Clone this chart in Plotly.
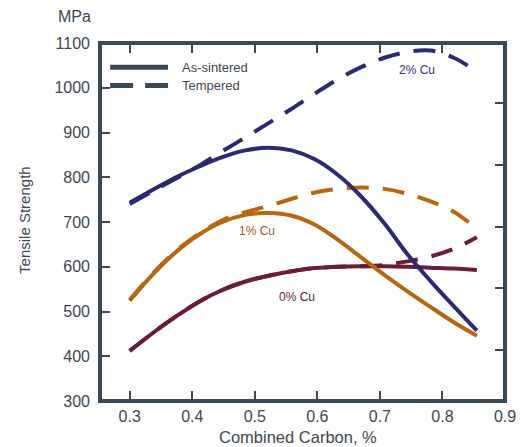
import plotly.graph_objects as go

# Combined carbon (%) sampled evenly from 0.30 to 0.855
carbon = [0.300, 0.337, 0.374, 0.411, 0.448, 0.485, 0.522, 0.559,
          0.596, 0.633, 0.670, 0.707, 0.744, 0.781, 0.818, 0.855]

# Tensile strength (MPa), as-sintered and tempered, per copper level
cu2_sintered = [743, 772, 800, 824, 845, 860, 866, 860, 840, 805, 757, 697, 628, 568, 512, 457]
cu2_tempered = [740, 769, 797, 826, 858, 889, 921, 953, 987, 1019, 1046, 1067, 1080, 1083, 1067, 1036]

cu1_sintered = [524, 583, 633, 672, 700, 716, 720, 714, 694, 660, 621, 582, 545, 510, 476, 446]
cu1_tempered = [526, 585, 635, 674, 704, 722, 736, 752, 766, 774, 777, 774, 763, 746, 723, 685]

cu0_sintered = [412, 452, 489, 522, 548, 567, 580, 590, 597, 600, 601, 601, 600, 598, 596, 593]
cu0_tempered = [412, 452, 489, 522, 548, 567, 580, 590, 597, 600, 601, 604, 612, 623, 640, 666]

x_ticks = [0.3, 0.4, 0.5, 0.6, 0.7, 0.8, 0.9]
y_ticks = [300, 400, 500, 600, 700, 800, 900, 1000, 1100]
ksi_ticks = [60, 80, 100, 120, 140]
MPA_PER_KSI = 6.89476

series_labels = ["2% Cu", "1% Cu", "0% Cu"]
label_x = [0.759, 0.503, 0.567]
label_y = [1040, 681, 532]

BLUE = "#2c2a72"
ORANGE = "#b8660f"
MAROON = "#6a1c3c"
FRAME = "#3b4a57"
TEXT = "#3e4751"
FONT = "Liberation Sans, Arial"
DASH = "22px,14px"

fig = go.Figure()

curves = [
    (cu0_sintered, cu0_tempered, MAROON),
    (cu1_sintered, cu1_tempered, ORANGE),
    (cu2_sintered, cu2_tempered, BLUE),
]
for sy, ty, col in curves:
    fig.add_trace(go.Scatter(x=carbon, y=sy, mode="lines",
                             line=dict(color=col, width=4, shape="spline", smoothing=1.0),
                             showlegend=False, hoverinfo="skip"))
    fig.add_trace(go.Scatter(x=carbon, y=ty, mode="lines",
                             line=dict(color=col, width=4, shape="spline", smoothing=1.0, dash=DASH),
                             showlegend=False, hoverinfo="skip"))

# secondary scale in ksi on the right-hand side (ticks only)
fig.add_trace(go.Scatter(x=[None], y=[None], yaxis="y2", showlegend=False, hoverinfo="skip"))

label_colors = ["#33346a", "#9c5a22", "#5c1f34"]
for txt, lx, ly, c in zip(series_labels, label_x, label_y, label_colors):
    fig.add_annotation(x=lx, y=ly, text=txt, showarrow=False,
                       font=dict(family=FONT, size=12, color=c))

fig.update_layout(
    width=529, height=447,
    margin=dict(l=100, r=24, t=43, b=46),
    paper_bgcolor="white", plot_bgcolor="white",
    xaxis=dict(range=[0.2525, 0.9], tickvals=x_ticks, ticktext=[f"{v:.1f}" for v in x_ticks],
               ticks="inside", ticklen=10, tickwidth=1.5, tickcolor=FRAME,
               mirror="ticks", showline=False, showgrid=False, zeroline=False,
               ticklabelstandoff=4,
               tickfont=dict(family=FONT, size=16, color=TEXT)),
    yaxis=dict(range=[300, 1100], tickvals=y_ticks,
               ticks="inside", ticklen=10, tickwidth=1.5, tickcolor=FRAME,
               showline=False, showgrid=False, zeroline=False,
               ticklabelstandoff=9,
               tickfont=dict(family=FONT, size=16, color=TEXT)),
    yaxis2=dict(overlaying="y", side="right", range=[300 / MPA_PER_KSI, 1100 / MPA_PER_KSI],
                tickvals=ksi_ticks, showticklabels=False,
                ticks="inside", ticklen=10, tickwidth=1.5, tickcolor=FRAME,
                showline=False, showgrid=False, zeroline=False),
    showlegend=False,
)

# plot frame
fig.add_shape(type="rect", xref="paper", yref="paper", x0=0, x1=1, y0=0, y1=1,
              line=dict(color=FRAME, width=4), layer="above")

# key for the two heat treatments
fig.add_shape(type="line", xref="paper", yref="paper", x0=0.025, x1=0.168, y0=0.932, y1=0.932,
              line=dict(color=FRAME, width=5))
fig.add_shape(type="line", xref="paper", yref="paper", x0=0.025, x1=0.168, y0=0.881, y1=0.881,
              line=dict(color=FRAME, width=5, dash="23px,12px"))
fig.add_annotation(xref="paper", yref="paper", x=0.197, y=0.932, text="As-sintered",
                   showarrow=False, xanchor="left", yanchor="middle",
                   font=dict(family=FONT, size=13, color=TEXT))
fig.add_annotation(xref="paper", yref="paper", x=0.197, y=0.881, text="Tempered",
                   showarrow=False, xanchor="left", yanchor="middle",
                   font=dict(family=FONT, size=13, color=TEXT))

# axis titles
fig.add_annotation(xref="paper", yref="paper", x=-0.064, y=1.073, text="MPa",
                   showarrow=False, xanchor="center", yanchor="middle",
                   font=dict(family=FONT, size=16, color=TEXT))
fig.add_annotation(xref="paper", yref="paper", x=-0.185, y=0.506, text="Tensile Strength",
                   showarrow=False, textangle=-90, xanchor="center", yanchor="middle",
                   font=dict(family=FONT, size=15, color=TEXT))
fig.add_annotation(xref="paper", yref="paper", x=0.488, y=-0.10, text="Combined Carbon, %",
                   showarrow=False, xanchor="center", yanchor="middle",
                   font=dict(family=FONT, size=16.5, color=TEXT))

fig.write_html("out.html")
